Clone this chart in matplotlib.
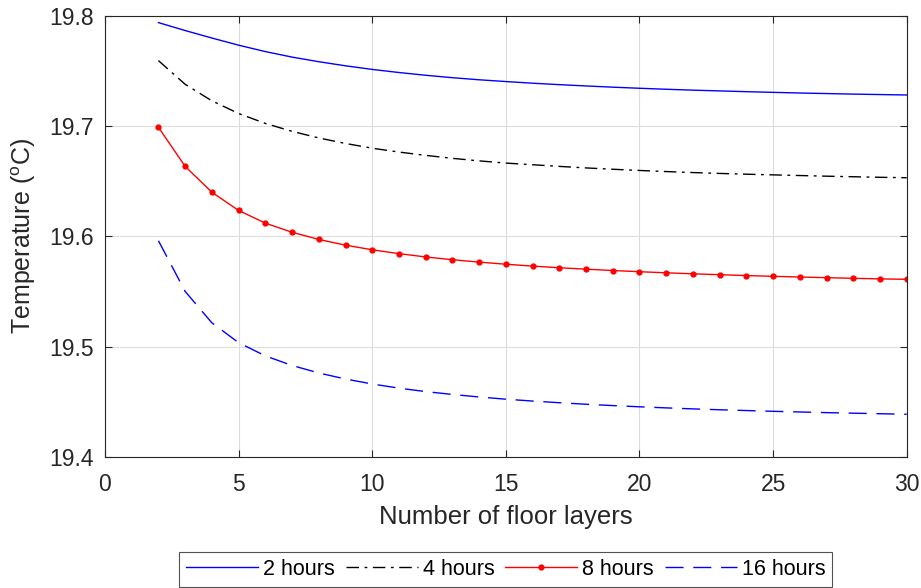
import matplotlib
matplotlib.use("Agg")
import matplotlib.pyplot as plt

# Anzahl der Bodenschichten
layers = list(range(2, 31))

# Temperaturen (°C) je Zeitpunkt
temp_2h = [19.7940, 19.7868, 19.7800, 19.7735, 19.7677, 19.7627, 19.7585, 19.7548, 19.7515, 19.7487,
           19.7462, 19.7440, 19.7421, 19.7405, 19.7390, 19.7377, 19.7365, 19.7354, 19.7344, 19.7335,
           19.7327, 19.7320, 19.7313, 19.7307, 19.7301, 19.7296, 19.7291, 19.7287, 19.7283]
temp_4h = [19.7595, 19.7380, 19.7230, 19.7115, 19.7025, 19.6953, 19.6893, 19.6843, 19.6800, 19.6765,
           19.6735, 19.6708, 19.6685, 19.6665, 19.6650, 19.6635, 19.6621, 19.6609, 19.6598, 19.6588,
           19.6579, 19.6571, 19.6564, 19.6558, 19.6552, 19.6546, 19.6541, 19.6536, 19.6532]
temp_8h = [19.6990, 19.6635, 19.6400, 19.6235, 19.6120, 19.6037, 19.5972, 19.5920, 19.5878, 19.5843,
           19.5813, 19.5788, 19.5766, 19.5747, 19.5730, 19.5715, 19.5702, 19.5690, 19.5679, 19.5669,
           19.5660, 19.5652, 19.5644, 19.5637, 19.5631, 19.5625, 19.5619, 19.5614, 19.5610]
temp_16h = [19.5960, 19.5500, 19.5215, 19.5035, 19.4915, 19.4828, 19.4760, 19.4705, 19.4660, 19.4622,
            19.4591, 19.4565, 19.4542, 19.4522, 19.4505, 19.4490, 19.4476, 19.4464, 19.4453, 19.4443,
            19.4434, 19.4426, 19.4419, 19.4412, 19.4406, 19.4400, 19.4395, 19.4390, 19.4385]

x_ticks = [0, 5, 10, 15, 20, 25, 30]
y_ticks = [19.4, 19.5, 19.6, 19.7, 19.8]

plt.rcParams["font.family"] = ["Liberation Sans", "DejaVu Sans"]
plt.rcParams["mathtext.fontset"] = "custom"
plt.rcParams["mathtext.rm"] = "Liberation Sans"

axis_color = "#262626"

fig = plt.figure(figsize=(9.21, 5.88), dpi=100)
ax = fig.add_axes([0.114, 0.2233, 0.8705, 0.7495])

ax.plot(layers, temp_2h, color="#0000ff", linewidth=1.0, label="2 hours")
ax.plot(layers, temp_4h, color="black", linewidth=1.0, linestyle=(0, (9, 4, 2, 4)), label="4 hours")
ax.plot(layers, temp_8h, color="#ff0000", linewidth=1.0, marker=".", markersize=7, label="8 hours")
ax.plot(layers, temp_16h, color="#0000ff", linewidth=1.0, linestyle=(0, (13, 7)), label="16 hours")

ax.set_xlim(0, 30)
ax.set_ylim(19.4, 19.8)
ax.set_xticks(x_ticks)
ax.set_yticks(y_ticks)
ax.set_yticklabels([f"{v:.1f}" for v in y_ticks])

ax.grid(True, color="#dcdcdc", linewidth=0.8)
ax.set_axisbelow(True)
ax.tick_params(direction="in", top=True, right=True, length=5, width=0.8,
               colors=axis_color, labelsize=16.5)
ax.tick_params(axis="x", pad=11.5)
ax.tick_params(axis="y", pad=8)
for spine in ax.spines.values():
    spine.set_color(axis_color)
    spine.set_linewidth(0.8)

ax.set_xlabel("Number of floor layers", fontsize=18.5, color=axis_color, labelpad=6.5)
ax.set_ylabel(r"Temperature ($^{\rm o}$C)", fontsize=18, color=axis_color, labelpad=8)

leg = ax.legend(loc="upper center", bbox_to_anchor=(0.5, -0.216), ncol=4, fontsize=15.5,
                frameon=True, fancybox=False, edgecolor=axis_color, handlelength=3.35,
                handletextpad=0.23, columnspacing=0.5, borderpad=0.32, borderaxespad=0)
leg.get_frame().set_linewidth(0.8)
for txt in leg.get_texts():
    txt.set_color("black")

fig.savefig("out.png", dpi=100)
